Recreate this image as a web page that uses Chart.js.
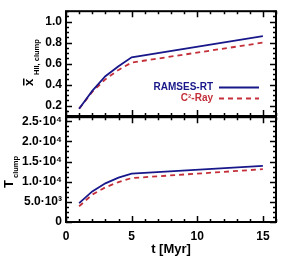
<!DOCTYPE html>
<html><head><meta charset="utf-8">
<script src="https://cdn.jsdelivr.net/npm/chart.js@4.4.1/dist/chart.umd.min.js"></script>
<style>
html,body{margin:0;padding:0;background:#fff;}
#wrap{position:relative;width:295px;height:265px;overflow:hidden;}
#c1{position:absolute;left:0;top:0;}
#c2{position:absolute;left:0;top:106px;}
</style></head>
<body><div id="wrap"><canvas id="c2" width="295" height="159"></canvas><canvas id="c1" width="295" height="130"></canvas></div>
<script>
// ---- data ----
const times = [1, 2, 3, 4, 5, 15];
const xhiiRamses = [0.17, 0.34, 0.48, 0.575, 0.66, 0.862];
const xhiiC2Ray  = [0.17, 0.33, 0.45, 0.54, 0.61, 0.80];
const tRamses = [4700, 7600, 9600, 11000, 12000, 13900];
const tC2Ray  = [3900, 6800, 8600, 9900, 10900, 13100];
const seriesNames = ['RAMSES-RT', 'C\u00B2-Ray'];
const xTickValues = [0, 5, 10, 15];
const xTickLabels = ['0', '5', '10', '15'];
const yTopTickValues = [0.2, 0.4, 0.6, 0.8, 1.0];
const yTopTickLabels = ['0.2', '0.4', '0.6', '0.8', '1.0'];
const yBotTickValues = [0, 5000, 10000, 15000, 20000, 25000];
const yBotTickLabels = ['0', '5.0\u00B710\u00B3', '1.0\u00B710\u2074', '1.5\u00B710\u2074', '2.0\u00B710\u2074', '2.5\u00B710\u2074'];

const BLUE = '#18188a', RED = '#c4303a';
const FONT = "'Liberation Sans', Arial, Helvetica, sans-serif";
Chart.defaults.font.family = FONT;
Chart.defaults.color = '#000';

function toPts(xs, ys){ return xs.map((x,i)=>({x:x, y:ys[i]})); }

function frameTicks(xMinorStep, yMinorStep, yMaj){
  return {
    id:'frameTicks',
    afterDraw(chart){
      const ctx = chart.ctx, a = chart.chartArea, xs = chart.scales.x, ys = chart.scales.y;
      ctx.save();
      ctx.strokeStyle = '#000';
      ctx.lineWidth = 1.5;
      for (let v = xs.min; v <= xs.max + 1e-9; v += xMinorStep){
        const major = xTickValues.some(t => Math.abs(t - v) < 1e-9);
        const L = major ? 6 : 3;
        const px = Math.round(xs.getPixelForValue(v)) + 0.5;
        ctx.beginPath();
        ctx.moveTo(px, a.bottom); ctx.lineTo(px, a.bottom - L);
        ctx.moveTo(px, a.top); ctx.lineTo(px, a.top + L);
        ctx.stroke();
      }
      const start = Math.ceil((ys.min - 1e-9) / yMinorStep) * yMinorStep;
      for (let v = start; v <= ys.max + 1e-9; v += yMinorStep){
        const major = yMaj.some(t => Math.abs(t - v) < 1e-6);
        const L = major ? 6 : 3;
        const py = Math.round(ys.getPixelForValue(v)) + 0.5;
        ctx.beginPath();
        ctx.moveTo(a.left, py); ctx.lineTo(a.left + L, py);
        ctx.moveTo(a.right, py); ctx.lineTo(a.right - L, py);
        ctx.stroke();
      }
      ctx.lineWidth = 2;
      ctx.strokeRect(a.left, a.top, a.right - a.left, a.bottom - a.top);
      ctx.restore();
    }
  };
}

function makeDatasets(y1, y2){
  return [
    {label: seriesNames[0], data: toPts(times, y1), borderColor: BLUE, borderWidth: 1.8, pointRadius: 0, tension: 0, fill:false},
    {label: seriesNames[1], data: toPts(times, y2), borderColor: RED, borderWidth: 1.8, borderDash:[5,4], pointRadius: 0, tension: 0, fill:false}
  ];
}

function yScale(min, max, vals, labels){
  return {
    type:'linear', min:min, max:max,
    grid:{display:false, drawTicks:false}, border:{display:false},
    afterBuildTicks: s => { s.ticks = vals.map(v => ({value:v})); },
    afterFit: s => { s.width = 66; },
    ticks:{ font:{size:12, weight:'bold'}, padding:4, color:'#000',
      callback: (v) => { const i = vals.findIndex(t => Math.abs(t - v) < 1e-6); return i >= 0 ? labels[i] : ''; } }
  };
}

const legendPlugin = {
  id:'legendDraw',
  afterDraw(chart){
    const ctx = chart.ctx;
    ctx.save();
    ctx.font = "bold 10px " + FONT;
    ctx.textAlign = 'right'; ctx.textBaseline = 'middle';
    chart.data.datasets.forEach((ds, i) => {
      const y = 87 + i * 11;
      ctx.fillStyle = ds.borderColor;
      ctx.fillText(ds.label, 213, y);
      ctx.strokeStyle = ds.borderColor; ctx.lineWidth = 1.8;
      ctx.setLineDash(ds.borderDash || []);
      ctx.beginPath(); ctx.moveTo(219, y + 0.5); ctx.lineTo(259, y + 0.5); ctx.stroke();
    });
    ctx.setLineDash([]);
    ctx.fillStyle = '#000';
    ctx.translate(33, 86); ctx.rotate(-Math.PI/2);
    ctx.textAlign = 'left'; ctx.textBaseline = 'alphabetic';
    ctx.font = "bold 13px " + FONT;
    ctx.fillText('x', 0, 0);
    ctx.fillRect(0.5, -10, 7, 1.5);
    ctx.font = "bold 7.5px " + FONT;
    ctx.fillText('HII, clump', 11, 6);
    ctx.restore();
  }
};

const titlePlugin2 = {
  id:'ytitle2',
  afterDraw(chart){
    const ctx = chart.ctx;
    ctx.save();
    ctx.fillStyle = '#000';
    ctx.translate(13, 188 - 106); ctx.rotate(-Math.PI/2);
    ctx.textAlign = 'left'; ctx.textBaseline = 'alphabetic';
    ctx.font = "bold 13px " + FONT;
    ctx.fillText('T', 0, 0);
    ctx.font = "bold 7.5px " + FONT;
    ctx.fillText('clump', 10, 5);
    ctx.restore();
  }
};

const xBase = {
  type:'linear', min:0, max:16,
  grid:{display:false, drawTicks:false}, border:{display:false},
  afterBuildTicks: s => { s.ticks = xTickValues.map(v => ({value:v})); }
};

new Chart(document.getElementById('c1'), {
  type:'line',
  data:{ datasets: makeDatasets(xhiiRamses, xhiiC2Ray) },
  options:{
    responsive:false, animation:false, events:[],
    layout:{ padding:{ top:10, right:19, bottom:14, left:0 } },
    plugins:{ legend:{display:false}, tooltip:{enabled:false} },
    scales:{
      x: Object.assign({}, xBase, { display:false }),
      y: yScale(0.1, 1.1, yTopTickValues, yTopTickLabels)
    }
  },
  plugins:[ frameTicks(1, 0.05, yTopTickValues), legendPlugin ]
});

new Chart(document.getElementById('c2'), {
  type:'line',
  data:{ datasets: makeDatasets(tRamses, tC2Ray) },
  options:{
    responsive:false, animation:false, events:[],
    layout:{ padding:{ top:10, right:19, bottom:0, left:0 } },
    plugins:{ legend:{display:false}, tooltip:{enabled:false} },
    scales:{
      x: Object.assign({}, xBase, {
        afterFit: s => { s.height = 43; },
        ticks:{ font:{size:12, weight:'bold'}, padding:7, color:'#000', maxRotation:0,
          callback: (v) => { const i = xTickValues.indexOf(v); return i >= 0 ? xTickLabels[i] : ''; } },
        title:{ display:true, text:'t [Myr]', font:{size:13, weight:'bold'}, color:'#000', padding:{top:0, bottom:8} }
      }),
      y: yScale(0, 26000, yBotTickValues, yBotTickLabels)
    }
  },
  plugins:[ frameTicks(1, 1250, yBotTickValues), titlePlugin2 ]
});
</script>
</body></html>
